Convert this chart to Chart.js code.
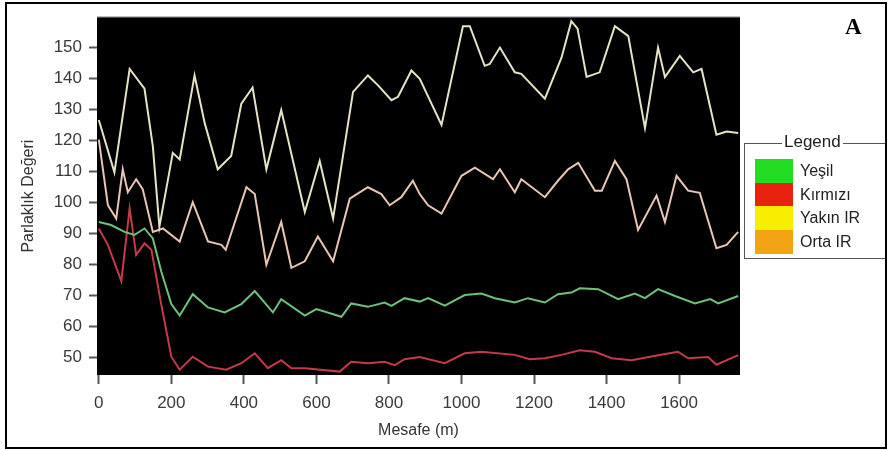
<!DOCTYPE html>
<html>
<head>
<meta charset="utf-8">
<script src="https://cdn.jsdelivr.net/npm/chart.js@4.4.1/dist/chart.umd.min.js"></script>
<style>
  html, body { margin: 0; padding: 0; background: #fff; }
  #wrap { position: relative; width: 888px; height: 450px; overflow: hidden; font-family: "Liberation Sans", Arial, sans-serif; }
  #chart { position: absolute; left: 0; top: 0; }
  #frame { position: absolute; left: 5px; top: 2px; width: 878px; height: 443px; border: 2px solid #000; pointer-events: none; }
  #panel { position: absolute; left: 845px; top: 14px; font-family: "Liberation Serif", "Times New Roman", serif; font-weight: bold; font-size: 23px; color: #000; }
  #legendBox { position: absolute; left: 744px; top: 143px; width: 140px; height: 114px; border: 1px solid #555; }
  #legendTitle { position: absolute; left: 782px; top: 132px; background: #fff; padding: 0 2px; font-size: 17px; color: #222; line-height: 20px; }
  .item { position: absolute; left: 10px; height: 24px; display: flex; align-items: center; }
  .sw { width: 38px; height: 24px; margin-right: 7px; }
  .lab { font-size: 16px; color: #222; }
</style>
</head>
<body>
<div id="wrap">
  <canvas id="chart" width="888" height="450"></canvas>
  <div id="panel">A</div>
  <div id="legendBox"></div>
  <div id="legendTitle">Legend</div>
  <div id="frame"></div>
</div>
<script>
// distances (m) and brightness values
const yesilDist = [0, 34, 71, 98, 126, 149, 172, 200, 223, 259, 301, 347, 393, 430, 480, 503, 568, 600, 669, 696, 742, 788, 807, 843, 885, 908, 954, 1009, 1055, 1092, 1147, 1183, 1230, 1266, 1303, 1326, 1377, 1432, 1478, 1506, 1542, 1589, 1644, 1686, 1708, 1763];
const yesilVals = [93.6, 92.6, 90.4, 89.4, 91.5, 88.3, 77.7, 67.1, 63.4, 70.3, 66, 64.4, 67.1, 71.3, 64.4, 68.7, 63.4, 65.5, 63, 67.3, 66.2, 67.6, 66.5, 69, 67.9, 69, 66.6, 70, 70.5, 69, 67.6, 69, 67.6, 70.3, 70.8, 72.2, 71.9, 68.7, 70.5, 69, 71.9, 69.7, 67.3, 68.7, 67.3, 69.7];

const kirmiziDist = [0, 25, 62, 85, 103, 126, 145, 172, 200, 223, 259, 301, 351, 393, 430, 466, 503, 531, 568, 664, 696, 742, 788, 816, 843, 885, 954, 1009, 1055, 1147, 1188, 1230, 1276, 1326, 1368, 1414, 1469, 1542, 1597, 1625, 1680, 1703, 1763];
const kirmiziVals = [91.5, 86.2, 74.5, 98, 83, 86.7, 84.6, 67.1, 50.1, 45.9, 50.1, 46.9, 45.9, 48, 51.2, 46.4, 49, 46.4, 46.4, 45.3, 48.5, 48, 48.5, 47.4, 49.3, 50, 48, 51.2, 51.7, 50.7, 49.3, 49.6, 50.7, 52.2, 51.7, 49.6, 49, 50.6, 51.7, 49.6, 50, 47.5, 50.6];

const yakinDist = [0, 43, 85, 126, 149, 167, 204, 223, 264, 292, 328, 365, 393, 424, 462, 503, 568, 609, 646, 701, 742, 770, 807, 825, 862, 885, 945, 1004, 1023, 1064, 1078, 1106, 1147, 1165, 1230, 1276, 1303, 1320, 1345, 1381, 1423, 1460, 1506, 1542, 1561, 1602, 1639, 1662, 1703, 1731, 1763];
const yakinVals = [126.5, 109.6, 143, 136.6, 118, 92, 115.9, 113.8, 140.9, 125.5, 110.6, 114.9, 131.8, 137, 110.6, 129.7, 96.8, 113.3, 94.7, 135.6, 140.9, 137.7, 132.9, 134, 142.5, 139.8, 124.9, 156.8, 156.8, 144, 144.6, 149.9, 141.9, 141.4, 133.4, 146.7, 158.4, 156, 140.4, 141.9, 156.8, 153.6, 123.9, 149.9, 140.4, 147.2, 141.9, 143, 121.8, 122.8, 122.3];

const ortaDist = [0, 25, 48, 66, 80, 103, 121, 149, 177, 223, 259, 301, 338, 350, 407, 430, 462, 503, 531, 568, 604, 646, 692, 742, 779, 802, 834, 866, 885, 908, 945, 1000, 1037, 1087, 1106, 1147, 1165, 1230, 1266, 1294, 1322, 1368, 1387, 1423, 1455, 1487, 1538, 1561, 1593, 1625, 1657, 1703, 1731, 1763];
const ortaVals = [120.2, 99, 94.7, 110.6, 103.2, 107.4, 104.2, 90.4, 91.5, 87.3, 100, 87.3, 86.2, 84.6, 104.8, 102.6, 79.8, 93.6, 78.8, 80.9, 88.9, 80.9, 101.1, 104.8, 102.6, 99, 101.6, 106.9, 102.6, 99, 96.3, 108.5, 111.1, 107.4, 110.6, 103.2, 107.4, 101.6, 106.9, 110.6, 112.7, 103.7, 103.7, 113.3, 107.4, 91, 102.1, 93.6, 108.5, 103.7, 103, 85.1, 86.2, 90.4];

const seriesNames = ["Yeşil", "Kırmızı", "Yakın IR", "Orta IR"];
const legendColors = ["#22dd22", "#e8220f", "#f7ee00", "#f3a414"];
const lineColors = ["#6fc07c", "#c43a48", "#e6e2c4", "#e9c5b5"];

const xTicks = [0, 200, 400, 600, 800, 1000, 1200, 1400, 1600];
const yTicks = [50, 60, 70, 80, 90, 100, 110, 120, 130, 140, 150];

function toPoints(dist, vals) {
  return dist.map((d, i) => ({ x: d, y: vals[i] }));
}

const plotBackground = {
  id: "plotBackground",
  beforeDraw(chart) {
    const { ctx, chartArea: a } = chart;
    ctx.save();
    ctx.fillStyle = "#000";
    ctx.fillRect(a.left, a.top, a.right - a.left, a.bottom - a.top);
    ctx.fillStyle = "#b0b0b0";
    ctx.fillRect(a.left, a.top - 1, a.right - a.left, 1);
    ctx.restore();
  },
};

// html legend
const legendBox = document.getElementById("legendBox");
seriesNames.forEach((name, i) => {
  const item = document.createElement("div");
  item.className = "item";
  item.style.top = 15 + i * 23.5 + "px";
  item.innerHTML = '<span class="sw" style="background:' + legendColors[i] + '"></span><span class="lab">' + name + "</span>";
  legendBox.appendChild(item);
});

const tickFont = { family: "'Liberation Sans', Arial, sans-serif", size: 17 };
const titleFont = { family: "'Liberation Sans', Arial, sans-serif", size: 16 };

const ctx = document.getElementById("chart").getContext("2d");
new Chart(ctx, {
  type: "line",
  data: {
    datasets: [
      { label: seriesNames[0], data: toPoints(yesilDist, yesilVals), borderColor: lineColors[0] },
      { label: seriesNames[1], data: toPoints(kirmiziDist, kirmiziVals), borderColor: lineColors[1] },
      { label: seriesNames[2], data: toPoints(yakinDist, yakinVals), borderColor: lineColors[2] },
      { label: seriesNames[3], data: toPoints(ortaDist, ortaVals), borderColor: lineColors[3] },
    ],
  },
  options: {
    responsive: false,
    animation: false,
    layout: { padding: { left: 0, top: 13, right: 148, bottom: 0 } },
    plugins: { legend: { display: false }, tooltip: { enabled: false } },
    elements: {
      point: { radius: 0 },
      line: { borderWidth: 2, tension: 0 },
    },
    scales: {
      x: {
        type: "linear",
        min: -5,
        max: 1768,
        afterFit: (s) => { s.height = 75; },
        afterBuildTicks: (s) => { s.ticks = xTicks.map((v) => ({ value: v })); },
        grid: { drawOnChartArea: false, tickLength: 9, color: "#555", tickWidth: 2 },
        border: { display: false },
        ticks: { autoSkip: false, maxRotation: 0, padding: 9, color: "#3a3a3a", font: tickFont, callback: (v) => String(v) },
        title: { display: true, text: "Mesafe (m)", color: "#333", font: titleFont, padding: { top: 0, bottom: 10 } },
      },
      y: {
        min: 44.2,
        max: 159.7,
        afterFit: (s) => { s.width = 97; },
        afterBuildTicks: (s) => { s.ticks = yTicks.map((v) => ({ value: v })); },
        grid: { drawOnChartArea: false, tickLength: 8, color: "#555", tickWidth: 2 },
        border: { display: false },
        ticks: { autoSkip: false, padding: 7, color: "#3a3a3a", font: tickFont, callback: (v) => String(v) },
        title: { display: true, text: "Parlaklık Değeri", color: "#333", font: titleFont, padding: { top: 19, bottom: 0 } },
      },
    },
  },
  plugins: [plotBackground],
});
</script>
</body>
</html>
